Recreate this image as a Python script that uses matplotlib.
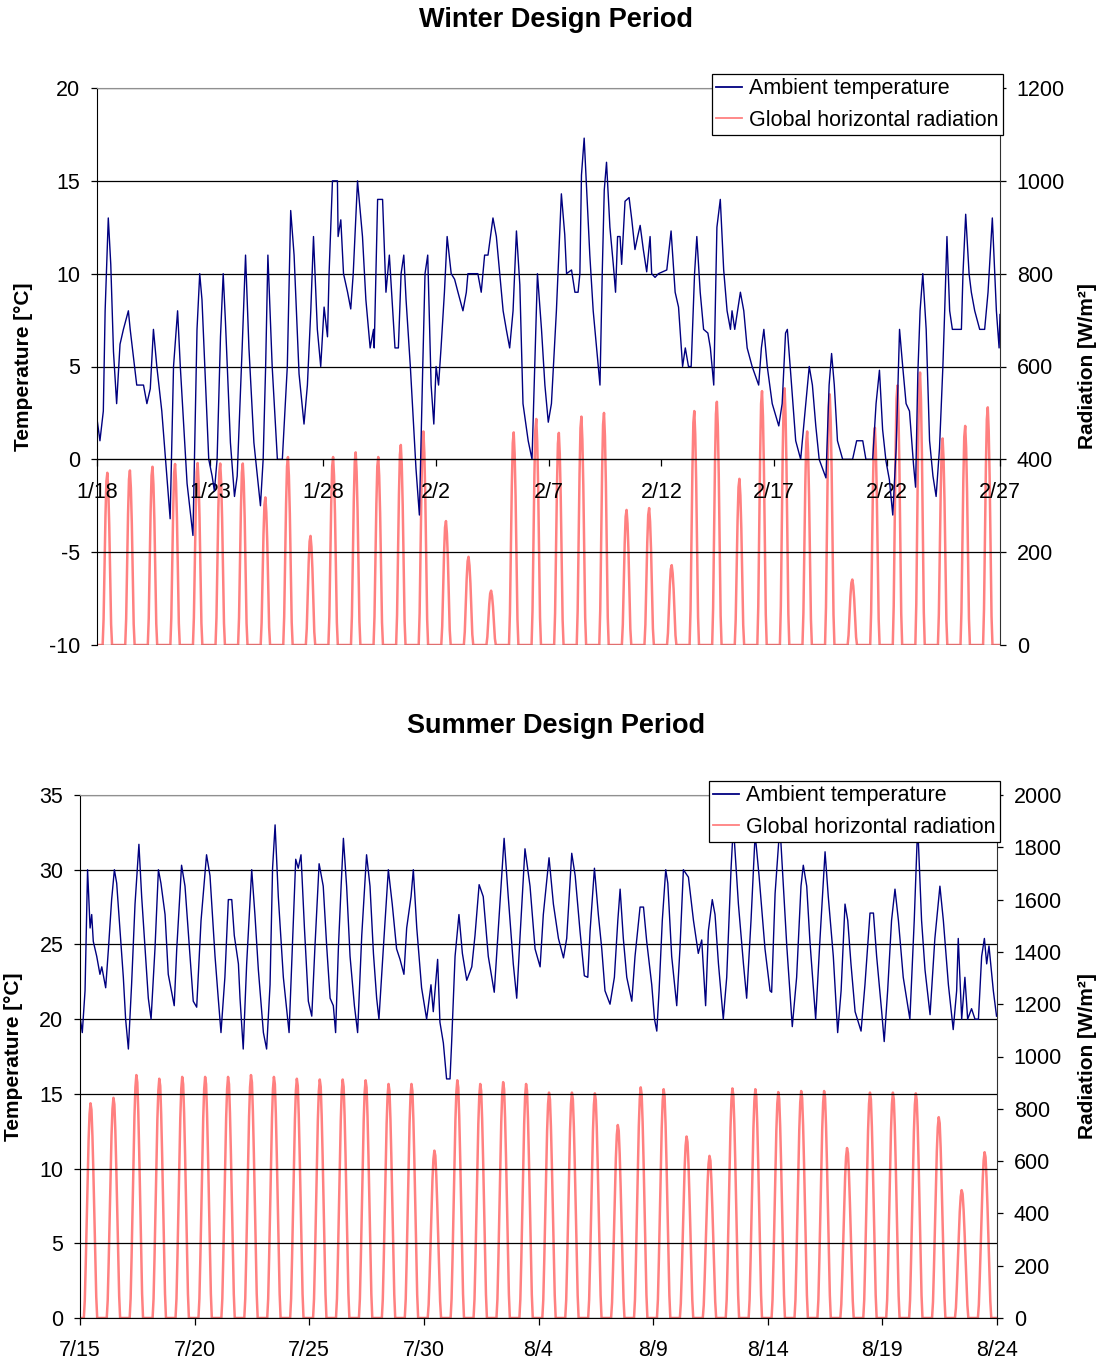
import numpy as np
import matplotlib
matplotlib.use("Agg")
import matplotlib.pyplot as plt

plt.rcParams['font.family'] = ['Liberation Sans', 'DejaVu Sans']
plt.rcParams['axes.unicode_minus'] = False

# ---- winter data (day 0 = 1/18 00:00) ----
winter_dates = ['1/18', '1/23', '1/28', '2/2', '2/7', '2/12', '2/17', '2/22', '2/27']
winter_temp_day = [0.02, 0.13, 0.28, 0.36, 0.50, 0.61, 0.73, 0.87, 1.02, 1.17, 1.39, 1.47, 1.76, 2.06, 2.21,
                   2.36, 2.50, 2.65, 2.87, 3.24, 3.39, 3.57, 3.69, 3.99, 4.25, 4.43, 4.55, 4.65, 4.95, 5.10,
                   5.20, 5.32, 5.47, 5.59, 5.69, 5.91, 6.09, 6.21, 6.43, 6.58, 6.73, 6.95, 7.24, 7.36, 7.47,
                   7.57, 7.76, 7.99, 8.21, 8.43, 8.58, 8.73, 8.95, 9.17, 9.32, 9.47, 9.59, 9.76, 9.91,
                   10.06, 10.21, 10.28, 10.43, 10.65, 10.68, 10.80, 10.92, 11.10, 11.24, 11.35, 11.54, 11.76,
                   11.91, 12.10, 12.25, 12.28, 12.43, 12.65, 12.80, 12.95, 13.10, 13.20, 13.35, 13.47, 13.59,
                   13.69, 13.88, 14.13, 14.28, 14.43, 14.53, 14.65, 14.80, 14.92, 15.02, 15.13, 15.24, 15.39,
                   15.51, 15.69, 15.84, 15.99, 16.21, 16.36, 16.43, 16.73, 16.87, 17.02, 17.17, 17.32, 17.54,
                   17.69, 17.84, 17.99, 18.13, 18.28, 18.43, 18.58, 18.73, 18.87, 19.10, 19.27, 19.39, 19.51,
                   19.69, 19.84, 19.99, 20.13, 20.35, 20.57, 20.72, 20.80, 21.02, 21.17, 21.31, 21.39, 21.46,
                   21.58, 21.69, 21.83, 21.98, 22.13, 22.28, 22.38, 22.47, 22.57, 22.72, 22.87, 22.97, 23.06,
                   23.17, 23.24, 23.39, 23.57, 23.69, 23.83, 23.95, 24.06, 24.20, 24.35, 24.50, 24.57, 24.72,
                   24.87, 25.24, 25.43, 25.61, 25.76, 25.94, 26.06, 26.20, 26.32, 26.47, 26.57, 26.72, 26.87,
                   27.06, 27.17, 27.32, 27.46, 27.61, 27.76, 27.91, 28.06, 28.13, 28.25, 28.40, 28.50, 28.65,
                   28.80, 29.02, 29.31, 29.43, 29.54, 29.69, 29.91, 30.20, 30.35, 30.50, 30.58, 30.73, 30.95,
                   31.17, 31.32, 31.55, 31.69, 31.84, 31.99, 32.29, 32.43, 32.54, 32.66, 32.80, 33.03, 33.32,
                   33.47, 33.65, 33.92, 34.06, 34.36, 34.51, 34.66, 34.80, 34.95, 35.10, 35.25, 35.40, 35.55,
                   35.69, 35.84, 35.99, 36.17, 36.26, 36.36, 36.46, 36.58, 36.73, 36.88, 37.03, 37.17, 37.32,
                   37.47, 37.55, 37.65, 37.77, 37.89, 37.99, 38.29, 38.36, 38.48, 38.63, 38.73, 38.88, 39.10,
                   39.32, 39.47, 39.66, 39.77, 39.84, 39.96, 40.0]
winter_temp_val = [2.0, 1.0, 2.6, 8.0, 13.0, 10.5, 5.8, 3.0, 6.2, 7.0, 8.0, 7.0, 4.0, 4.0, 3.0,
                   3.8, 7.0, 5.0, 2.6, -3.2, 5.0, 8.0, 5.0, -1.3, -4.1, 7.0, 10.0, 8.6, 0.0, -0.9,
                   -1.7, 0.0, 6.6, 10.0, 7.4, 0.9, -2.0, -0.9, 6.0, 11.0, 6.0, 0.9, -2.5, 0.0, 5.0,
                   11.0, 5.0, 0.0, 0.0, 5.0, 13.4, 11.0, 4.6, 1.9, 4.0, 8.0, 12.0, 7.0, 5.0,
                   8.2, 6.6, 10.0, 15.0, 15.0, 12.0, 12.9, 10.0, 9.0, 8.1, 10.0, 15.0, 12.0,
                   8.6, 6.0, 7.0, 6.0, 14.0, 14.0, 9.0, 11.0, 8.0, 6.0, 6.0, 10.0, 11.0,
                   8.6, 5.0, -0.5, -3.0, 5.0, 10.0, 11.0, 4.0, 1.9, 5.0, 4.0, 6.0, 9.0,
                   12.0, 10.0, 9.7, 9.0, 8.0, 9.0, 10.0, 10.0, 10.0, 9.0, 11.0, 11.0, 13.0,
                   12.0, 10.0, 8.0, 7.0, 6.0, 8.0, 12.3, 9.4, 3.0, 1.0, 0.0, 5.0, 10.0,
                   7.0, 4.0, 2.0, 3.0, 8.0, 14.3, 12.1, 10.0, 10.2, 9.0, 9.0, 10.0, 15.3,
                   17.3, 14.5, 11.0, 8.0, 6.0, 4.0, 10.0, 14.5, 16.0, 12.5, 10.5, 9.0, 12.0,
                   12.0, 10.5, 13.9, 14.1, 12.9, 11.3, 12.0, 12.6, 11.3, 10.1, 12.0, 10.0, 9.8,
                   10.0, 10.2, 12.3, 9.0, 8.2, 5.0, 6.0, 5.0, 5.0, 10.0, 12.0, 9.0, 7.0,
                   6.8, 6.0, 4.0, 12.5, 14.0, 10.2, 8.0, 7.0, 8.0, 7.0, 8.2, 9.0, 8.0,
                   6.0, 5.0, 4.0, 6.0, 7.0, 5.0, 3.0, 1.8, 3.0, 6.8, 7.0, 4.6, 1.0,
                   0.0, 2.0, 5.0, 4.0, 1.8, 0.0, -1.0, 4.0, 5.7, 4.0, 1.0, 0.0, 0.0,
                   0.0, 1.0, 1.0, 0.0, 0.0, 3.0, 4.8, 1.6, -0.1, -1.1, -3.0, 0.6, 7.0,
                   5.0, 3.0, 2.6, -0.3, -1.5, 4.6, 8.0, 10.0, 7.0, 1.0, -0.9, -2.0, 0.6,
                   5.0, 8.0, 12.0, 8.0, 7.0, 7.0, 7.0, 10.0, 13.2, 10.0, 9.0, 8.0, 7.0,
                   7.0, 9.0, 13.0, 10.0, 8.0, 6.0, 7.8]
winter_rad_peak = [371, 376, 384, 390, 392, 391, 391, 318, 405, 235,
                   405, 415, 405, 431, 460, 267, 190, 117, 458, 487,
                   457, 492, 500, 291, 295, 172, 504, 524, 358, 547,
                   553, 460, 540, 141, 468, 559, 587, 445, 472, 512]
# hourly shape of one clear winter day (fraction of the daily peak)
winter_day_hours = [6, 7, 8, 9, 10, 11, 12, 13, 14, 15, 16]
winter_day_frac = [0, 0.15, 0.45, 0.75, 0.95, 1.0, 0.9, 0.7, 0.4, 0.12, 0]

# ---- summer data (day 0 = 7/15 00:00) ----
summer_dates = ['7/15', '7/20', '7/25', '7/30', '8/4', '8/9', '8/14', '8/19', '8/24']
summer_temp_day = [0.00, 0.10, 0.22, 0.33, 0.44, 0.51, 0.58, 0.73, 0.87, 0.95, 1.12, 1.24, 1.38, 1.50, 1.60,
                   1.74, 1.89, 1.99, 2.11, 2.25, 2.40, 2.57, 2.69, 2.84, 2.98, 3.10, 3.27, 3.42, 3.53, 3.71,
                   3.85, 4.11, 4.22, 4.43, 4.58, 4.80, 4.94, 5.09, 5.28, 5.52, 5.67, 5.89, 6.03, 6.15, 6.32,
                   6.47, 6.62, 6.73, 6.91, 6.98, 7.12, 7.27, 7.49, 7.63, 7.78, 8.00, 8.14, 8.29, 8.40, 8.51,
                   8.65, 8.87, 9.12, 9.26, 9.41, 9.52, 9.64, 9.79, 9.96, 10.11, 10.25, 10.43, 10.61, 10.76,
                   10.91, 11.05, 11.15, 11.27, 11.39, 11.49, 11.63, 11.78, 11.97, 12.11, 12.29, 12.50, 12.65,
                   12.80, 12.94, 13.04, 13.23, 13.45, 13.62, 13.81, 13.96, 14.13, 14.25, 14.44, 14.54, 14.69,
                   14.90, 15.12, 15.31, 15.41, 15.60, 15.70, 15.85, 15.99, 16.14, 16.21, 16.36, 16.53, 16.68,
                   16.87, 17.09, 17.23, 17.41, 17.59, 17.81, 18.07, 18.25, 18.50, 18.68, 18.90, 19.05, 19.19,
                   19.41, 19.63, 19.85, 20.07, 20.21, 20.46, 20.65, 20.87, 21.09, 21.23, 21.45, 21.60, 21.81,
                   22.00, 22.15, 22.25, 22.44, 22.61, 22.76, 22.90, 23.12, 23.31, 23.46, 23.56, 23.70, 23.85,
                   24.07, 24.21, 24.43, 24.58, 24.72, 24.94, 25.06, 25.16, 25.26, 25.40, 25.55, 25.64, 25.81,
                   26.03, 26.17, 26.32, 26.54, 26.76, 26.97, 27.12, 27.29, 27.41, 27.58, 27.70, 27.85, 28.06,
                   28.21, 28.40, 28.50, 28.72, 28.94, 29.08, 29.27, 29.45, 29.62, 29.88, 30.10, 30.17, 30.32,
                   30.53, 30.68, 30.83, 31.07, 31.26, 31.45, 31.55, 31.70, 31.84, 32.09, 32.28, 32.50, 32.64,
                   32.86, 33.05, 33.20, 33.37, 33.49, 33.63, 33.81, 34.07, 34.24, 34.46, 34.61, 34.75, 34.97,
                   35.08, 35.23, 35.40, 35.55, 35.70, 35.91, 36.20, 36.39, 36.54, 36.71, 36.86, 37.08, 37.29,
                   37.51, 37.66, 37.88, 38.09, 38.24, 38.31, 38.46, 38.60, 38.72, 38.89, 39.04, 39.19, 39.33,
                   39.45, 39.55, 39.65, 39.84, 39.98]
summer_temp_val = [20.2, 19.1, 21.9, 30.0, 26.1, 27.0, 25.2, 24.2, 23.0, 23.5, 22.1, 24.7, 28.0, 30.0, 29.1,
                   26.1, 22.8, 20.0, 18.0, 22.3, 27.7, 31.7, 28.2, 24.7, 21.4, 20.0, 24.7, 30.0, 29.1, 27.0,
                   23.0, 20.9, 24.7, 30.3, 28.9, 24.2, 21.2, 20.8, 26.6, 31.0, 29.6, 24.2, 21.4, 19.1, 22.8,
                   28.0, 28.0, 25.6, 23.7, 21.4, 18.0, 23.7, 30.0, 27.0, 23.3, 19.1, 18.0, 22.3, 30.1, 33.0,
                   28.2, 22.8, 19.1, 24.7, 30.7, 30.1, 31.0, 26.1, 21.2, 20.2, 24.9, 30.4, 28.9, 24.9,
                   21.4, 20.9, 19.1, 24.7, 28.9, 32.1, 28.9, 24.2, 20.9, 19.1, 25.6, 31.0, 28.9,
                   24.4, 21.4, 20.0, 24.7, 30.0, 27.7, 24.7, 24.0, 23.0, 26.1, 28.2, 30.0, 26.1,
                   22.1, 20.0, 22.3, 20.5, 24.0, 19.8, 18.4, 16.0, 16.0, 18.4, 24.2, 27.0, 24.4,
                   22.6, 23.5, 25.6, 29.0, 28.2, 24.2, 21.8, 26.1, 32.1, 28.2, 23.7, 21.4, 25.4,
                   31.4, 28.9, 24.7, 23.5, 27.0, 30.8, 27.7, 25.4, 24.1, 25.4, 31.1, 29.6, 25.9,
                   22.9, 22.8, 25.9, 30.1, 27.0, 24.7, 21.9, 21.0, 22.8, 26.6, 28.7, 25.4, 22.8,
                   21.2, 24.2, 27.5, 27.5, 25.2, 22.3, 20.0, 19.2, 21.9, 26.6, 30.0, 29.1, 24.2,
                   20.9, 24.7, 30.0, 29.5, 26.6, 24.4, 25.3, 20.9, 25.9, 28.0, 27.0, 23.7, 20.0,
                   22.8, 30.1, 33.0, 27.7, 23.7, 21.4, 26.6, 32.4, 29.6, 24.7, 21.9, 21.8, 28.4,
                   33.0, 28.9, 24.9, 19.5, 22.8, 28.9, 30.3, 28.9, 25.2, 20.0, 25.4, 31.2, 28.2,
                   24.2, 19.1, 21.9, 27.7, 26.6, 23.7, 20.5, 19.2, 22.3, 27.1, 27.1, 24.2, 20.5,
                   18.5, 21.9, 26.6, 28.7, 26.6, 22.8, 20.0, 26.6, 33.0, 26.6, 23.3, 20.3, 25.4,
                   28.9, 26.6, 22.3, 19.3, 21.9, 25.4, 20.0, 22.8, 20.0, 20.7, 20.0, 20.0, 24.2,
                   25.4, 23.7, 24.9, 21.9, 20.2]
summer_rad_peak = [821, 842, 929, 915, 922, 922, 922, 929, 922, 915,
                   912, 912, 909, 895, 895, 640, 909, 895, 902, 895,
                   862, 862, 859, 738, 882, 875, 694, 620, 878, 875,
                   864, 868, 868, 650, 862, 862, 859, 768, 489, 634]
summer_day_hours = [4, 5, 6, 7, 8, 9, 10, 11, 12, 13, 14, 15, 16, 17, 18]
summer_day_frac = [0, 0.08, 0.25, 0.45, 0.65, 0.83, 0.95, 1.0, 0.97, 0.85, 0.68, 0.48, 0.28, 0.1, 0]

TEMP_C = '#000080'
RAD_C = '#FF8080'
FS = 15.5


def daily_curve(peaks, hours, frac):
    x, y = [0.0], [0.0]
    for d, p in enumerate(peaks):
        for h, f in zip(hours, frac):
            x.append(d + h / 24.0)
            y.append(p * f)
    x.append(float(len(peaks)))
    y.append(0.0)
    return x, y


def panel(rect, title, title_y, t_day, t_val, peaks, hours, frac, dates,
          tlim, tstep, rlim, rstep, xaxis_at_zero, ylab_x, rlab_x, leg_anchor):
    ax = fig.add_axes(rect)
    ax2 = ax.twinx()
    ax.set_zorder(ax2.get_zorder() + 1)
    ax.patch.set_visible(False)

    rx, ry = daily_curve(peaks, hours, frac)
    l2, = ax2.plot(rx, ry, color=RAD_C, lw=1.8, label='Global horizontal radiation')
    l1, = ax.plot(t_day, t_val, color=TEMP_C, lw=1.0, label='Ambient temperature')

    ax.set_xlim(0, 40)
    ax.set_ylim(*tlim)
    ax2.set_ylim(*rlim)
    ax.set_yticks(np.arange(tlim[0], tlim[1] + 0.1, tstep))
    ax2.set_yticks(np.arange(rlim[0], rlim[1] + 1, rstep))
    ax.set_xticks(np.arange(0, 41, 5))
    ax.set_xticklabels(dates)

    ax.grid(axis='y', color='black', lw=0.9)
    ax.set_axisbelow(True)

    ax.spines['right'].set_visible(False)
    for s in ['top', 'left', 'bottom']:
        ax2.spines[s].set_visible(False)
    ax.spines['top'].set_color('#909090')
    ax.spines['left'].set_color('black')
    ax.spines['bottom'].set_color('black')
    ax2.spines['right'].set_color('#303030')
    if xaxis_at_zero:
        ax.spines['bottom'].set_position(('data', 0))

    ax.tick_params(axis='y', direction='out', length=4, width=0.9, labelsize=FS, pad=8)
    ax.tick_params(axis='x', direction='out', length=5, width=0.9, labelsize=FS, pad=11)
    ax2.tick_params(axis='y', direction='out', length=4, width=0.9, labelsize=FS, pad=8)

    ax.set_ylabel('Temperature [°C]', fontsize=15, fontweight='bold')
    ax.yaxis.set_label_coords(ylab_x, 0.5)
    ax2.set_ylabel('Radiation [W/m²]', fontsize=15, fontweight='bold', rotation=90)
    ax2.yaxis.set_label_coords(rlab_x, 0.5)

    leg = ax.legend(handles=[l1, l2], loc='upper right', bbox_to_anchor=leg_anchor,
                    bbox_transform=fig.transFigure, fontsize=FS, frameon=True,
                    fancybox=False, framealpha=1, edgecolor='black', borderpad=0.2,
                    labelspacing=0.48, handlelength=1.2, handletextpad=0.35,
                    borderaxespad=0)
    leg.get_frame().set_linewidth(0.9)
    for h in leg.legend_handles:
        h.set_linewidth(1.3)

    fig.text(0.504, title_y, title, ha='center', va='center', fontsize=19.5, fontweight='bold')
    return ax, ax2


W, H = 1103, 1364
fig = plt.figure(figsize=(W / 100, H / 100), dpi=100)

panel([97 / W, 1 - 645 / H, 903 / W, 557 / H], 'Winter Design Period', 1 - 20 / H,
      winter_temp_day, winter_temp_val, winter_rad_peak, winter_day_hours, winter_day_frac,
      winter_dates, (-10, 20), 5, (0, 1200), 200, True, -0.071, 1.086,
      (1003 / W, 1 - 74 / H))

panel([80 / W, 1 - 1318 / H, 917 / W, 523 / H], 'Summer Design Period', 1 - 726 / H,
      summer_temp_day, summer_temp_val, summer_rad_peak, summer_day_hours, summer_day_frac,
      summer_dates, (0, 35), 5, (0, 2000), 200, False, -0.062, 1.088,
      (1000 / W, 1 - 781 / H))

fig.savefig('out.png', dpi=100)
